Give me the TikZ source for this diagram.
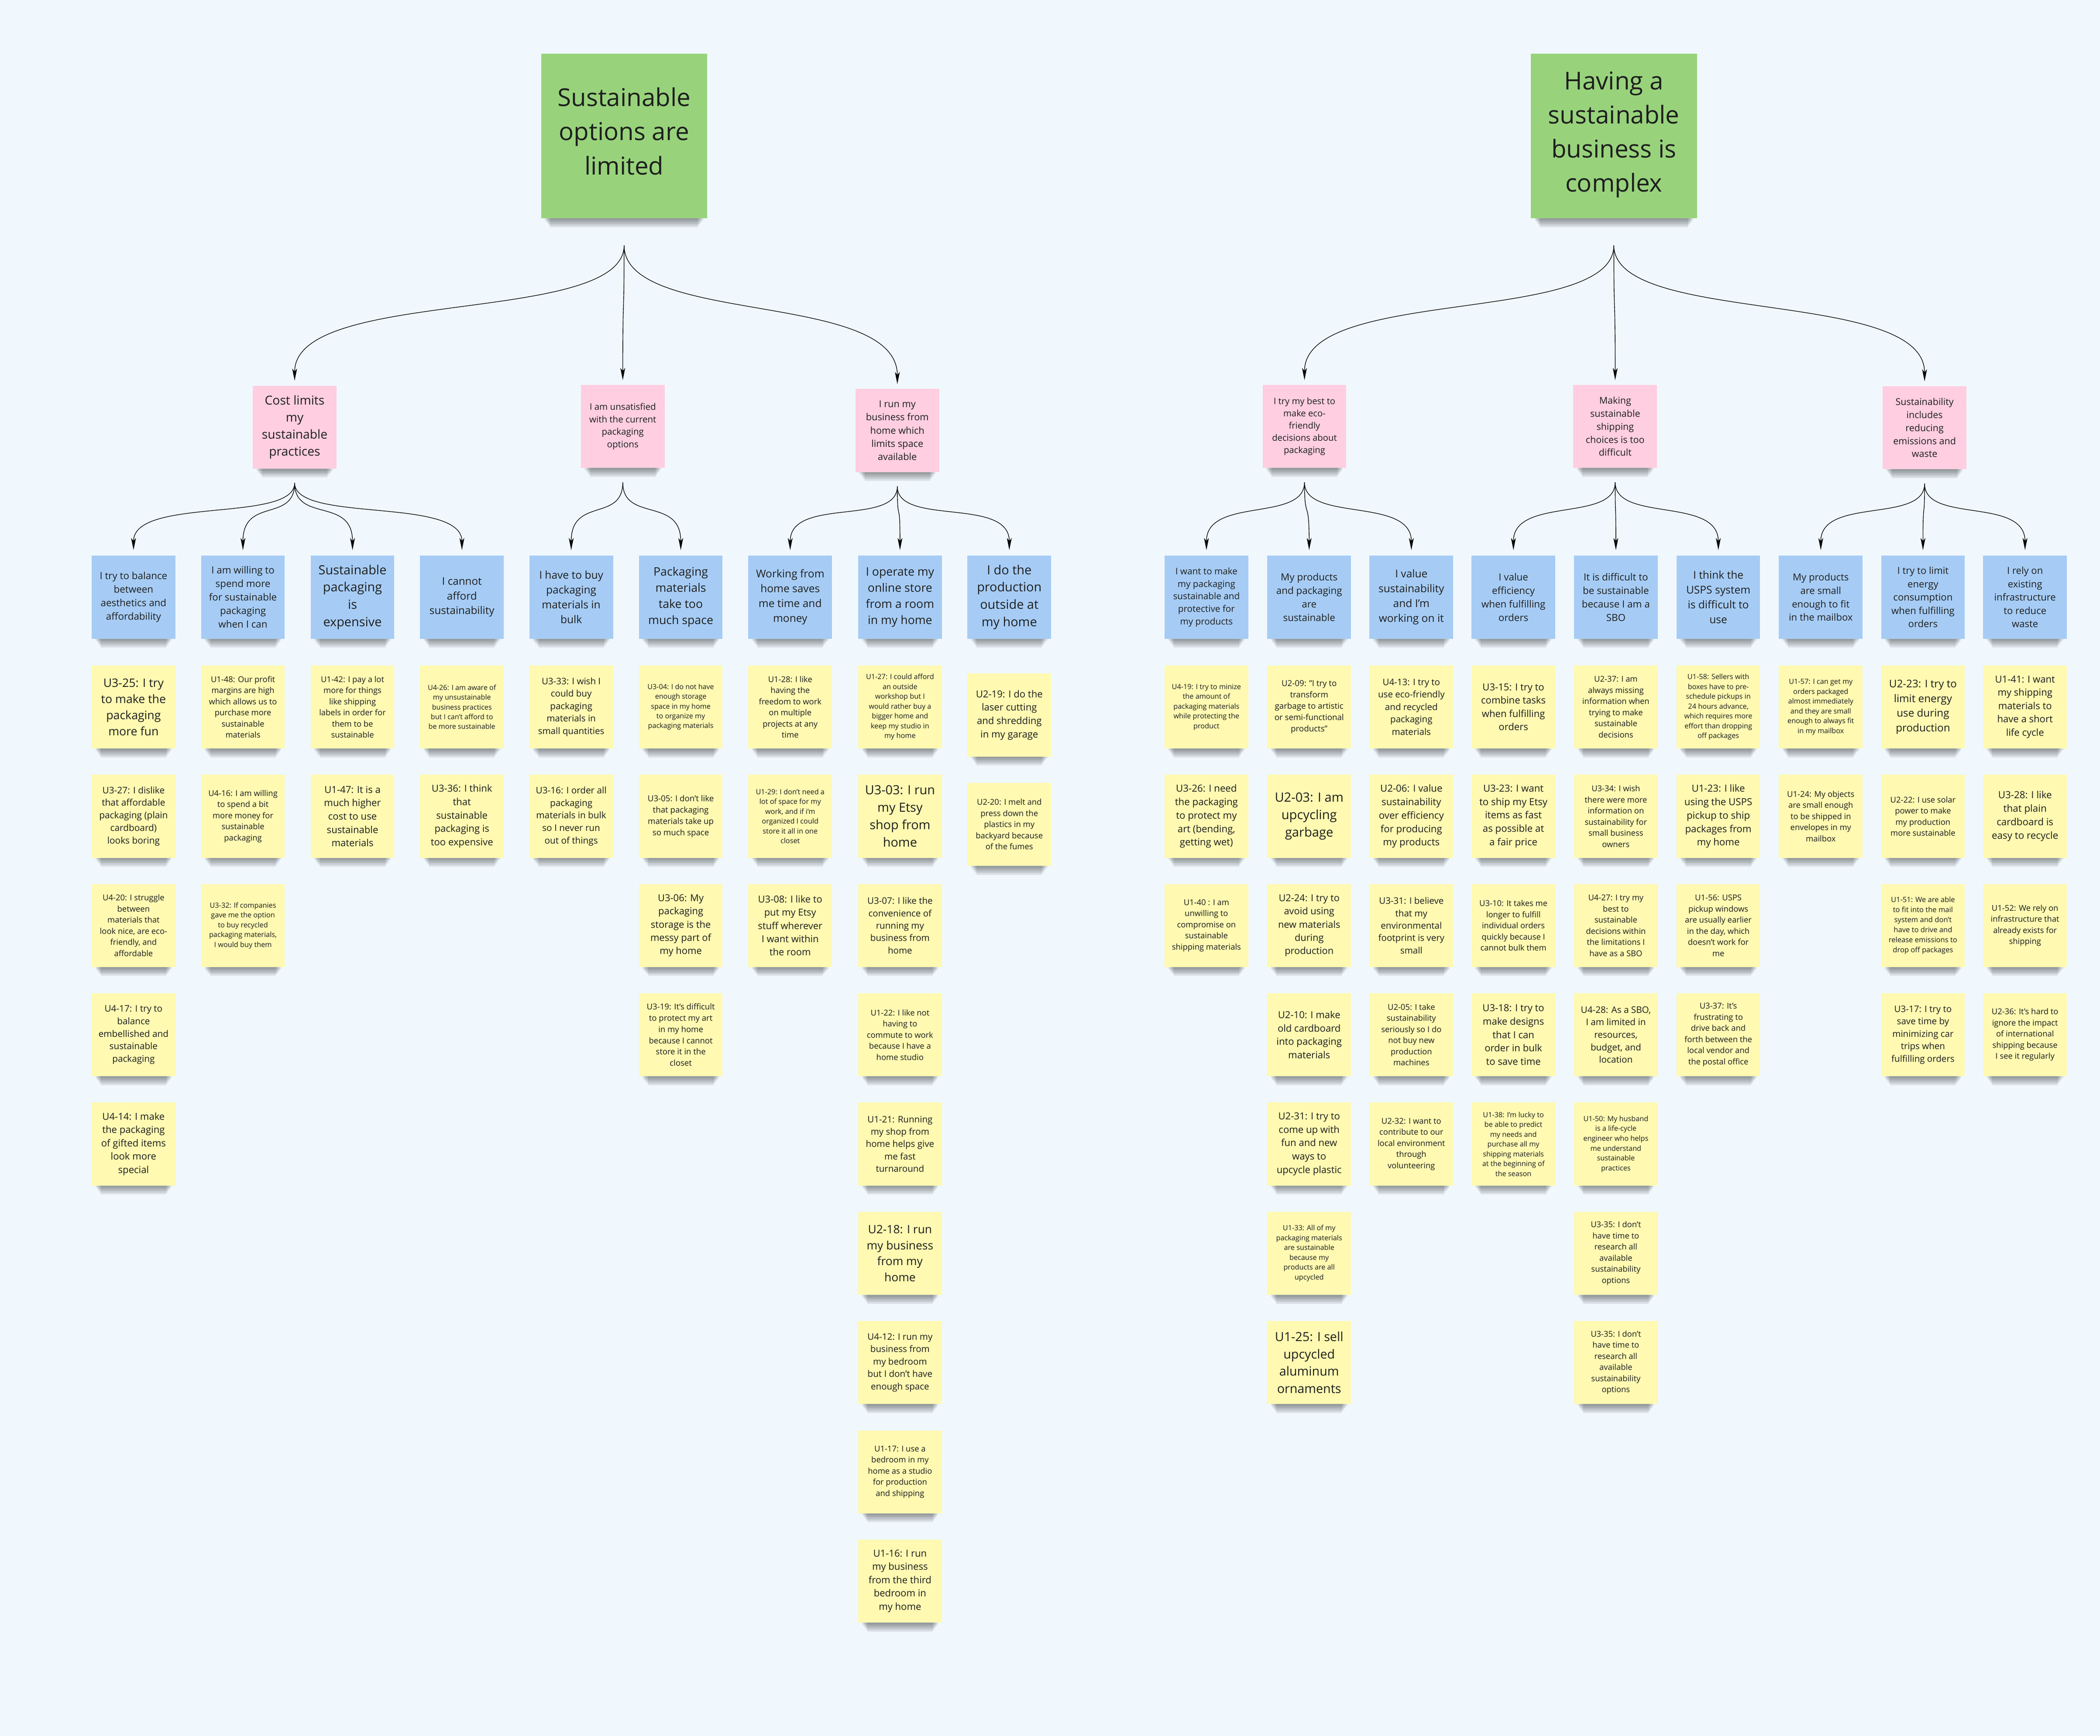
\documentclass[tikz,border=0pt]{standalone}
\usepackage{fontspec}
\setmainfont{Open Sans}
\usetikzlibrary{calc,arrows.meta}
\definecolor{bgc}{HTML}{F0F8FE}
\definecolor{ystick}{HTML}{FFF9B1}
\definecolor{bstick}{HTML}{A6CCF5}
\definecolor{pstick}{HTML}{FFCEE0}
\definecolor{gstick}{HTML}{98D37C}
\definecolor{ink}{HTML}{1E1E1E}
\pgfdeclarelayer{back}
\pgfsetlayers{back,main}
\newcommand{\fz}[1]{\fontsize{#1}{\fpeval{1.385*#1}}\selectfont}
\newcommand{\shadowof}[1]{%
  \begin{pgfonlayer}{back}
  \foreach \k in {1,2,3,4,5}{
    \fill[black,opacity=0.085] ($(#1.south west)+(2+\k,-2)$) rectangle ($(#1.south east)+(-2-\k,1.3*\k)$);
  }
  \end{pgfonlayer}}
\newcommand{\nt}[6]{\node[#2,font=\fz{#5}] (#1) at (#3,#4) {#6};\shadowof{#1}}
\newcommand{\ttl}[5]{\node[grn] (#1) at (#2,#3) {};\shadowof{#1}
  \node[align=center,text=ink,font=\fz{18.4},inner sep=0pt] (#1txt) at ($(#1.center)+(0,#4)$) {#5};}
\begin{document}
\begin{tikzpicture}[x=1pt,y=-1pt,
  note/.style={rectangle,minimum width=62.5pt,minimum height=62pt,inner sep=0.5pt,align=center,text=ink},
  yel/.style={note,fill=ystick},
  blu/.style={note,fill=bstick},
  pnk/.style={note,fill=pstick},
  grn/.style={note,fill=gstick,minimum width=124pt,minimum height=123pt},
  arr/.style={line width=0.45pt,draw=black,-{Stealth[length=9pt,width=3.6pt,inset=2.2pt]}}]
\begin{pgfonlayer}{back}
\fill[bgc] (0,0) rectangle (1568,1296.5);
\end{pgfonlayer}
\useasboundingbox (0,0) rectangle (1568,1296.5);

% ---------- titles ----------
\ttl{T1}{466}{101.5}{-3.5}{Sustainable\\options are\\limited}
\ttl{T2}{1205}{101.5}{-1}{Having a\\sustainable\\business is\\complex}

% ---------- pink themes ----------
\nt{P1}{pnk}{220}{319}{9.2}{Cost limits\\my\\sustainable\\practices}
\nt{P2}{pnk}{465}{318.5}{6.7}{I am unsatisfied\\with the current\\packaging\\options}
\nt{P3}{pnk}{670}{321.5}{7.1}{I run my\\business from\\home which\\limits space\\available}
\nt{P4}{pnk}{974}{318.5}{6.6}{I try my best to\\make eco-\\friendly\\decisions about\\packaging}
\nt{P5}{pnk}{1206}{318.5}{7.0}{Making\\sustainable\\shipping\\choices is too\\difficult}
\nt{P6}{pnk}{1437}{319.5}{7.0}{Sustainability\\includes\\reducing\\emissions and\\waste}

% ---------- blue groups (left) ----------
\nt{B1}{blu}{99.7}{446}{7.3}{I try to balance\\between\\aesthetics and\\affordability}
\nt{B2}{blu}{181.4}{446}{7.3}{I am willing to\\spend more\\for sustainable\\packaging\\when I can}
\nt{B3}{blu}{263.2}{446}{9.4}{Sustainable\\packaging\\is\\expensive}
\nt{B4}{blu}{344.9}{446}{7.9}{I cannot\\afford\\sustainability}
\nt{B5}{blu}{426.5}{446}{8.0}{I have to buy\\packaging\\materials in\\bulk}
\nt{B6}{blu}{508.3}{446}{8.7}{Packaging\\materials\\take too\\much space}
\nt{B7}{blu}{590}{446}{8.0}{Working from\\home saves\\me time and\\money}
\nt{B8}{blu}{672}{446}{8.7}{I operate my\\online store\\from a room\\in my home}
\nt{B9}{blu}{753.6}{446}{9.4}{I do the\\production\\outside at\\my home}

% ---------- blue groups (right) ----------
\nt{R1}{blu}{900.8}{446}{6.75}{I want to make\\my packaging\\sustainable and\\protective for\\my products}
\nt{R2}{blu}{977.5}{446}{7.3}{My products\\and packaging\\are\\sustainable}
\nt{R3}{blu}{1053.8}{446}{8.0}{I value\\sustainability\\and I'm\\working on it}
\nt{R4}{blu}{1130}{446}{7.3}{I value\\efficiency\\when fulfilling\\orders}
\nt{R5}{blu}{1206.5}{446}{7.3}{It is difficult to\\be sustainable\\because I am a\\SBO}
\nt{R6}{blu}{1283}{446}{8.0}{I think the\\USPS system\\is difficult to\\use}
\nt{R7}{blu}{1359.5}{446}{7.2}{My products\\are small\\enough to fit\\in the mailbox}
\nt{R8}{blu}{1435.8}{446}{7.2}{I try to limit\\energy\\consumption\\when fulfilling\\orders}
\nt{R9}{blu}{1512}{446}{7.2}{I rely on\\existing\\infrastructure\\to reduce\\waste}

% ---------- yellow notes, left tree ----------
\nt{a1}{yel}{99.7}{528}{8.7}{U3-25: I try\\to make the\\packaging\\more fun}
\nt{a2}{yel}{99.7}{609.6}{6.8}{U3-27: I dislike\\that affordable\\packaging (plain\\cardboard)\\looks boring}
\nt{a3}{yel}{99.7}{691.2}{6.0}{U4-20: I struggle\\between\\materials that\\look nice, are eco-\\friendly, and\\affordable}
\nt{a4}{yel}{99.7}{772.8}{6.75}{U4-17: I try to\\balance\\embellished and\\sustainable\\packaging}
\nt{a5}{yel}{99.7}{854.4}{7.2}{U4-14: I make\\the packaging\\of gifted items\\look more\\special}

\nt{b1}{yel}{181.4}{528}{6.0}{U1-48: Our profit\\margins are high\\which allows us to\\purchase more\\sustainable\\materials}
\nt{b2}{yel}{181.4}{609.6}{6.0}{U4-16: I am willing\\to spend a bit\\more money for\\sustainable\\packaging}
\nt{b3}{yel}{181.4}{691.2}{5.3}{U3-32: If companies\\gave me the option\\to buy recycled\\packaging materials,\\I would buy them}

\nt{c1}{yel}{263.2}{528}{6.0}{U1-42: I pay a lot\\more for things\\like shipping\\labels in order for\\them to be\\sustainable}
\nt{c2}{yel}{263.2}{609.6}{7.2}{U1-47: It is a\\much higher\\cost to use\\sustainable\\materials}

\nt{d1}{yel}{344.9}{528}{5.25}{U4-26: I am aware of\\my unsustainable\\business practices\\but I can't afford to\\be more sustainable}
\nt{d2}{yel}{344.9}{609.6}{7.2}{U3-36: I think\\that\\sustainable\\packaging is\\too expensive}

\nt{e1}{yel}{426.5}{528}{6.7}{U3-33: I wish I\\could buy\\packaging\\materials in\\small quantities}
\nt{e2}{yel}{426.5}{609.6}{6.75}{U3-16: I order all\\packaging\\materials in bulk\\so I never run\\out of things}

\nt{f1}{yel}{508.3}{528}{5.25}{U3-04: I do not have\\enough storage\\space in my home\\to organize my\\packaging materials}
\nt{f2}{yel}{508.3}{609.6}{6.1}{U3-05: I don't like\\that packaging\\materials take up\\so much space}
\nt{f3}{yel}{508.3}{691.2}{7.15}{U3-06: My\\packaging\\storage is the\\messy part of\\my home}
\nt{f4}{yel}{508.3}{772.8}{6.05}{U3-19: It's difficult\\to protect my art\\in my home\\because I cannot\\store it in the\\closet}

\nt{g1}{yel}{590}{528}{6.0}{U1-28: I like\\having the\\freedom to work\\on multiple\\projects at any\\time}
\nt{g2}{yel}{590}{609.6}{5.3}{U1-29: I don't need a\\lot of space for my\\work, and if i'm\\organized I could\\store it all in one\\closet}
\nt{g3}{yel}{590}{691.2}{7.15}{U3-08: I like to\\put my Etsy\\stuff wherever\\I want within\\the room}

\nt{h1}{yel}{672}{528}{5.3}{U1-27: I could afford\\an outside\\workshop but I\\would rather buy a\\bigger home and\\keep my studio in\\my home}
\nt{h2}{yel}{672}{609.6}{9.4}{U3-03: I run\\my Etsy\\shop from\\home}
\nt{h3}{yel}{672}{691.2}{6.7}{U3-07: I like the\\convenience of\\running my\\business from\\home}
\nt{h4}{yel}{672}{772.8}{6.0}{U1-22: I like not\\having to\\commute to work\\because I have a\\home studio}
\nt{h5}{yel}{672}{854.4}{6.7}{U1-21: Running\\my shop from\\home helps give\\me fast\\turnaround}
\nt{h6}{yel}{672}{936}{8.6}{U2-18: I run\\my business\\from my\\home}
\nt{h7}{yel}{672}{1017.6}{6.7}{U4-12: I run my\\business from\\my bedroom\\but I don't have\\enough space}
\nt{h8}{yel}{672}{1099.2}{6.0}{U1-17: I use a\\bedroom in my\\home as a studio\\for production\\and shipping}
\nt{h9}{yel}{672}{1180.8}{7.2}{U1-16: I run\\my business\\from the third\\bedroom in\\my home}

\nt{i1}{yel}{753.6}{534}{7.2}{U2-19: I do the\\laser cutting\\and shredding\\in my garage}
\nt{i2}{yel}{753.6}{615.6}{6.0}{U2-20: I melt and\\press down the\\plastics in my\\backyard because\\of the fumes}

% ---------- yellow notes, right tree ----------
\nt{j1}{yel}{900.8}{528}{5.3}{U4-19: I try to minize\\the amount of\\packaging materials\\while protecting the\\product}
\nt{j2}{yel}{900.8}{609.6}{7.25}{U3-26: I need\\the packaging\\to protect my\\art (bending,\\getting wet)}
\nt{j3}{yel}{900.8}{691.2}{6.0}{U1-40 : I am\\unwilling to\\compromise on\\sustainable\\shipping materials}

\nt{k1}{yel}{977.5}{528}{6.1}{U2-09: "I try to\\transform\\garbage to artistic\\or semi-functional\\products"}
\nt{k2}{yel}{977.5}{609.6}{9.5}{U2-03: I am\\upcycling\\garbage}
\nt{k3}{yel}{977.5}{691.2}{7.1}{U2-24: I try to\\avoid using\\new materials\\during\\production}
\nt{k4}{yel}{977.5}{772.8}{7.2}{U2-10: I make\\old cardboard\\into packaging\\materials}
\nt{k5}{yel}{977.5}{854.4}{7.2}{U2-31: I try to\\come up with\\fun and new\\ways to\\upcycle plastic}
\nt{k6}{yel}{977.5}{936}{5.3}{U1-33: All of my\\packaging materials\\are sustainable\\because my\\products are all\\upcycled}
\nt{k7}{yel}{977.5}{1017.6}{9.35}{U1-25: I sell\\upcycled\\aluminum\\ornaments}

\nt{l1}{yel}{1053.8}{528}{6.7}{U4-13: I try to\\use eco-friendly\\and recycled\\packaging\\materials}
\nt{l2}{yel}{1053.8}{609.6}{7.25}{U2-06: I value\\sustainability\\over efficiency\\for producing\\my products}
\nt{l3}{yel}{1053.8}{691.2}{6.7}{U3-31: I believe\\that my\\environmental\\footprint is very\\small}
\nt{l4}{yel}{1053.8}{772.8}{6.0}{U2-05: I take\\sustainability\\seriously so I do\\not buy new\\production\\machines}
\nt{l5}{yel}{1053.8}{854.4}{6.0}{U2-32: I want to\\contribute to our\\local environment\\through\\volunteering}

\nt{m1}{yel}{1130}{528}{7.2}{U3-15: I try to\\combine tasks\\when fulfilling\\orders}
\nt{m2}{yel}{1130}{609.6}{7.25}{U3-23: I want\\to ship my Etsy\\items as fast\\as possible at\\a fair price}
\nt{m3}{yel}{1130}{691.2}{6.0}{U3-10: It takes me\\longer to fulfill\\individual orders\\quickly because I\\cannot bulk them}
\nt{m4}{yel}{1130}{772.8}{7.2}{U3-18: I try to\\make designs\\that I can\\order in bulk\\to save time}
\nt{m5}{yel}{1130}{854.4}{5.3}{U1-38: I'm lucky to\\be able to predict\\my needs and\\purchase all my\\shipping materials\\at the beginning of\\the season}

\nt{n1}{yel}{1206.5}{528}{6.0}{U2-37: I am\\always missing\\information when\\trying to make\\sustainable\\decisions}
\nt{n2}{yel}{1206.5}{609.6}{6.0}{U3-34: I wish\\there were more\\information on\\sustainability for\\small business\\owners}
\nt{n3}{yel}{1206.5}{691.2}{6.0}{U4-27: I try my\\best to\\sustainable\\decisions within\\the limitations I\\have as a SBO}
\nt{n4}{yel}{1206.5}{772.8}{6.75}{U4-28: As a SBO,\\I am limited in\\resources,\\budget, and\\location}
\nt{n5}{yel}{1206.5}{854.4}{5.3}{U1-50: My husband\\is a life-cycle\\engineer who helps\\me understand\\sustainable\\practices}
\nt{n6}{yel}{1206.5}{936}{6.0}{U3-35: I don't\\have time to\\research all\\available\\sustainability\\options}
\nt{n7}{yel}{1206.5}{1017.6}{6.0}{U3-35: I don't\\have time to\\research all\\available\\sustainability\\options}

\nt{o1}{yel}{1283}{528}{5.3}{U1-58: Sellers with\\boxes have to pre-\\schedule pickups in\\24 hours advance,\\which requires more\\effort than dropping\\off packages}
\nt{o2}{yel}{1283}{609.6}{7.25}{U1-23: I like\\using the USPS\\pickup to ship\\packages from\\my home}
\nt{o3}{yel}{1283}{691.2}{6.0}{U1-56: USPS\\pickup windows\\are usually earlier\\in the day, which\\doesn't work for\\me}
\nt{o4}{yel}{1283}{772.8}{6.0}{U3-37: It's\\frustrating to\\drive back and\\forth between the\\local vendor and\\the postal office}

\nt{q1}{yel}{1359.5}{528}{5.3}{U1-57: I can get my\\orders packaged\\almost immediately\\and they are small\\enough to always fit\\in my mailbox}
\nt{q2}{yel}{1359.5}{609.6}{6.0}{U1-24: My objects\\are small enough\\to be shipped in\\envelopes in my\\mailbox}

\nt{r1}{yel}{1435.8}{528}{7.9}{U2-23: I try to\\limit energy\\use during\\production}
\nt{r2}{yel}{1435.8}{609.6}{6.0}{U2-22: I use solar\\power to make\\my production\\more sustainable}
\nt{r3}{yel}{1435.8}{691.2}{5.4}{U1-51: We are able\\to fit into the mail\\system and don't\\have to drive and\\release emissions to\\drop off packages}
\nt{r4}{yel}{1435.8}{772.8}{6.7}{U3-17: I try to\\save time by\\minimizing car\\trips when\\fulfilling orders}

\nt{s1}{yel}{1512}{528}{7.2}{U1-41: I want\\my shipping\\materials to\\have a short\\life cycle}
\nt{s2}{yel}{1512}{609.6}{7.3}{U3-28: I like\\that plain\\cardboard is\\easy to recycle}
\nt{s3}{yel}{1512}{691.2}{6.0}{U1-52: We rely on\\infrastructure that\\already exists for\\shipping}
\nt{s4}{yel}{1512}{772.8}{6.0}{U2-36: It's hard to\\ignore the impact\\of international\\shipping because\\I see it regularly}

% ---------- connectors ----------
\foreach \tg in {P1,P2,P3}
  \draw[arr] ($(T1.south)+(0,20)$) .. controls +(0,60) and +(0,-70) .. ($(\tg.north)+(0,-3.5)$);
\foreach \tg in {P4,P5,P6}
  \draw[arr] ($(T2.south)+(0,20)$) .. controls +(0,60) and +(0,-70) .. ($(\tg.north)+(0,-3.5)$);
\foreach \pp/\bb in {P1/B1,P1/B2,P1/B3,P1/B4,P2/B5,P2/B6,P3/B7,P3/B8,P3/B9,P4/R1,P4/R2,P4/R3,P5/R4,P5/R5,P5/R6,P6/R7,P6/R8,P6/R9}
  \draw[arr] ($(\pp.south)+(0,10.5)$) .. controls +(0,30) and +(0,-40) .. ($(\bb.north)+(0,-4)$);
\end{tikzpicture}
\end{document}
